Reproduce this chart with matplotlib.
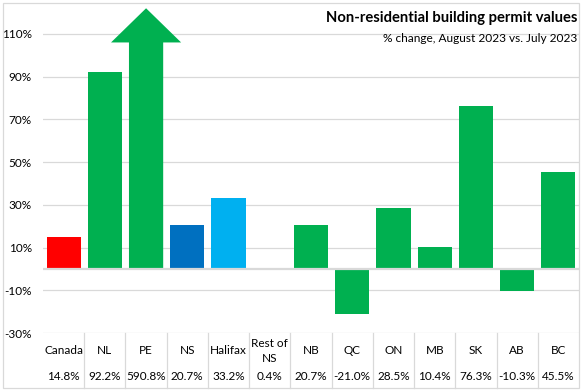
import matplotlib
matplotlib.use("Agg")
import matplotlib.pyplot as plt
from matplotlib.patches import Rectangle
import numpy as np

plt.rcParams['font.family'] = ['Lato', 'DejaVu Sans']

categories = ["Canada", "NL", "PE", "NS", "Halifax", "Rest of\nNS", "NB", "QC", "ON", "MB", "SK", "AB", "BC"]
values = [14.8, 92.2, 590.8, 20.7, 33.2, 0.4, 20.7, -21.0, 28.5, 10.4, 76.3, -10.3, 45.5]
value_labels = ["14.8%", "92.2%", "590.8%", "20.7%", "33.2%", "0.4%", "20.7%", "-21.0%", "28.5%", "10.4%", "76.3%", "-10.3%", "45.5%"]
colors = ["#FF0000", "#00B050", "#00B050", "#0070C0", "#00B0F0", "#00B050", "#00B050",
          "#00B050", "#00B050", "#00B050", "#00B050", "#00B050", "#00B050"]
yticks = [-30, -10, 10, 30, 50, 70, 90, 110]
title = "Non-residential building permit values"
subtitle = "% change, August 2023 vs. July 2023"

# display cap for the off-scale bar (drawn as an arrow)
cap_value = 106
arrow_tip = 122

W, H = 583, 390
fig = plt.figure(figsize=(W / 100, H / 100), dpi=100)
left_px, right_px, top_px, bottom_px = 43, 579, 4, 333
ax = fig.add_axes([left_px / W, 1 - bottom_px / H, (right_px - left_px) / W, (bottom_px - top_px) / H])

x = np.arange(len(categories))
bw = 0.83
ylim = (-30, 124)
ax.set_ylim(*ylim)
ax.set_xlim(-0.5, len(categories) - 0.5)

for xi, v, c in zip(x, values, colors):
    if v > cap_value:
        hw = 0.85
        xs = [xi - bw / 2, xi - bw / 2, xi - hw, xi, xi + hw, xi + bw / 2, xi + bw / 2]
        ys = [0, cap_value, cap_value, arrow_tip, cap_value, cap_value, 0]
        ax.fill(xs, ys, color=c, lw=0, zorder=3)
    else:
        ax.bar(xi, v, width=bw, color=c, zorder=3)

for t in yticks:
    ax.axhline(t, color="#D9D9D9", lw=0.9, zorder=1)
ax.axhline(0, color="#D9D9D9", lw=1.6, zorder=4)

ax.set_yticks(yticks)
ax.set_yticklabels([f"{t}%" for t in yticks], fontsize=8.5, color="#000000")
ax.tick_params(axis="y", length=0, pad=8)
ax.set_xticks([])
for s in ax.spines.values():
    s.set_visible(False)

# data table below the plot
tr = ax.get_xaxis_transform()
ph = bottom_px - top_px
def yfrac(py):
    return (bottom_px - py) / ph

for xi, cat, lab in zip(x, categories, value_labels):
    ax.text(xi, yfrac(351), cat, transform=tr, ha="center", va="center", fontsize=8.5,
            linespacing=1.5, clip_on=False)
    ax.text(xi, yfrac(377), lab, transform=tr, ha="center", va="center", fontsize=8.5,
            clip_on=False)
for xi in x[:-1]:
    ax.plot([xi + 0.5, xi + 0.5], [yfrac(333), yfrac(388)], transform=tr, color="#D9D9D9",
            lw=0.9, clip_on=False)

# titles
fig.text(577 / W, 1 - 18 / H, title, ha="right", va="center", fontsize=10.6, fontweight="bold")
fig.text(577 / W, 1 - 38 / H, subtitle, ha="right", va="center", fontsize=8.6)

# outer chart border
fig.patches.append(Rectangle((3 / W, 1 - 388 / H), (579 - 3) / W, (388 - 3) / H,
                             transform=fig.transFigure, fill=False, edgecolor="#D9D9D9", lw=0.9))

fig.savefig("out.png", dpi=100)
